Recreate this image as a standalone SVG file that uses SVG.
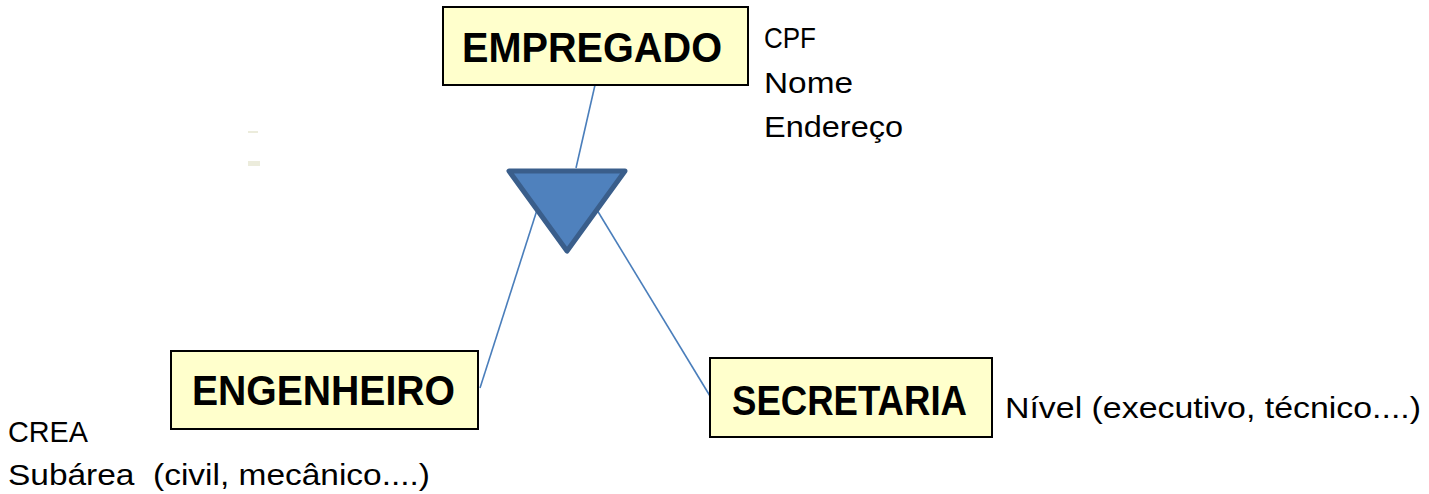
<svg xmlns="http://www.w3.org/2000/svg" width="1429" height="494" viewBox="0 0 1429 494">
<style>
.box{fill:#ffffcc;stroke:#000;stroke-width:2}
.title{font-family:"Liberation Sans",Arial,sans-serif;font-weight:bold;font-size:43px;fill:#000}
.attr{font-family:"Liberation Sans",Arial,sans-serif;font-size:30px;fill:#000}
.conn{stroke:#4a7ebb;stroke-width:1.6;fill:none}
</style>
<rect width="1429" height="494" fill="#fff"/>
<rect x="248" y="131" width="10" height="2" fill="#ececdc"/>
<rect x="248" y="161" width="12" height="5" fill="#ececdc"/>
<g id="connectors">
<line class="conn" x1="595" y1="85" x2="576" y2="168"/>
<line class="conn" x1="480" y1="388" x2="537" y2="210"/>
<line class="conn" x1="597" y1="210" x2="710" y2="396"/>
</g>
<g id="isa">
<polygon points="509,171 625,171 567,251" fill="#4f81bd" stroke="#3a5e8b" stroke-width="5" stroke-linejoin="round"/>
</g>
<g id="empregado">
<rect class="box" x="443" y="7" width="305" height="78"/>
<text class="title" x="462" y="62" textLength="260" lengthAdjust="spacingAndGlyphs">EMPREGADO</text>
</g>
<g id="engenheiro">
<rect class="box" x="171" y="351" width="307" height="78"/>
<text class="title" x="192" y="405" textLength="263" lengthAdjust="spacingAndGlyphs">ENGENHEIRO</text>
</g>
<g id="secretaria">
<rect class="box" x="710" y="358" width="282" height="79"/>
<text class="title" x="732" y="415" textLength="235" lengthAdjust="spacingAndGlyphs">SECRETARIA</text>
</g>
<g id="attrs-empregado">
<text class="attr" x="764" y="48" textLength="52" lengthAdjust="spacingAndGlyphs">CPF</text>
<text class="attr" x="764" y="93" textLength="89" lengthAdjust="spacingAndGlyphs">Nome</text>
<text class="attr" x="764" y="137" textLength="139" lengthAdjust="spacingAndGlyphs">Endereço</text>
</g>
<g id="attrs-engenheiro">
<text class="attr" x="8" y="442" textLength="80" lengthAdjust="spacingAndGlyphs">CREA</text>
<text class="attr" x="8" y="485" textLength="422" lengthAdjust="spacingAndGlyphs" xml:space="preserve">Subárea  (civil, mecânico....)</text>
</g>
<g id="attrs-secretaria">
<text class="attr" x="1005" y="418" textLength="416" lengthAdjust="spacingAndGlyphs">Nível (executivo, técnico....)</text>
</g>
</svg>
